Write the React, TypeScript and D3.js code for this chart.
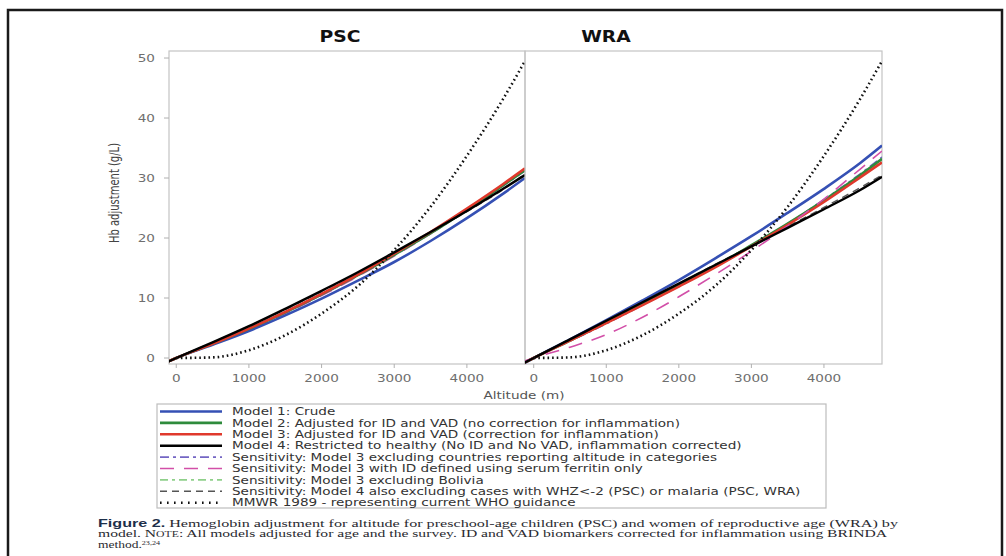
import React from "react";
import * as d3 from "d3";

// ---------- data ----------
const ALTITUDE = [-150, 0, 500, 1000, 1500, 2000, 2500, 3000, 3500, 4000, 4500, 4800];

const PSC_MODEL1 = [-0.8, 0, 2.2, 4.5, 7.1, 9.9, 12.9, 16.0, 19.5, 23.3, 27.4, 30.0];
const PSC_MODEL2 = [-0.8, 0, 2.35, 4.85, 7.6, 10.6, 13.8, 17.2, 20.8, 24.7, 28.8, 31.3];
const PSC_MODEL3 = [-0.8, 0, 2.35, 4.9, 7.7, 10.7, 13.9, 17.4, 21.0, 24.9, 29.0, 31.6];
const PSC_MODEL4 = [-0.8, 0, 2.6, 5.3, 8.2, 11.2, 14.3, 17.6, 21.0, 24.5, 28.2, 30.5];
const PSC_SENS1 = [-0.8, 0, 2.3, 4.8, 7.5, 10.5, 13.7, 17.1, 20.7, 24.6, 28.7, 31.2];
const PSC_SENS2 = [-0.8, 0, 2.2, 4.7, 7.4, 10.4, 13.6, 17.0, 20.7, 24.7, 28.9, 31.5];
const PSC_SENS3 = [-0.8, 0, 2.35, 4.9, 7.6, 10.6, 13.8, 17.2, 20.8, 24.7, 28.8, 31.4];
const PSC_SENS4 = [-0.8, 0, 2.6, 5.3, 8.1, 11.1, 14.2, 17.5, 20.9, 24.4, 28.1, 30.7];

const WRA_MODEL1 = [-1.0, 0, 3.1, 6.3, 9.6, 13.0, 16.6, 20.3, 24.2, 28.2, 32.5, 35.4];
const WRA_MODEL2 = [-0.9, 0, 2.9, 5.9, 9.0, 12.1, 15.3, 18.8, 22.4, 26.3, 30.5, 33.2];
const WRA_MODEL3 = [-0.9, 0, 2.9, 5.8, 8.8, 11.9, 15.1, 18.6, 22.2, 26.0, 30.1, 32.6];
const WRA_MODEL4 = [-0.9, 0, 3.1, 6.2, 9.3, 12.4, 15.5, 18.6, 21.7, 24.8, 28.0, 30.2];
const WRA_SENS1 = [-0.9, 0, 2.8, 5.7, 8.8, 11.9, 15.2, 18.7, 22.4, 26.4, 30.7, 33.5];
const WRA_SENS2 = [-0.6, 0, 1.8, 3.9, 6.8, 10.2, 13.9, 17.8, 22.0, 26.5, 31.5, 34.5];
const WRA_SENS3 = [-0.9, 0, 3.0, 6.0, 9.1, 12.2, 15.4, 18.8, 22.4, 26.2, 30.3, 33.0];
const WRA_SENS4 = [-0.9, 0, 3.1, 6.2, 9.3, 12.4, 15.6, 18.7, 21.9, 25.1, 28.4, 30.5];

const MMWR_1989 = [NaN, 0, 0.1, 1.3, 3.8, 7.4, 12.0, 18.0, 25.2, 33.7, 43.2, 49.5];

const PANEL_TITLES = ["PSC", "WRA"];
const X_TICKS = [0, 1000, 2000, 3000, 4000];
const Y_TICKS = [0, 10, 20, 30, 40, 50];
const X_LABEL = "Altitude (m)";
const Y_LABEL = "Hb adjustment (g/L)";

const LEGEND_LABELS = [
  "Model 1: Crude",
  "Model 2: Adjusted for ID and VAD (no correction for inflammation)",
  "Model 3: Adjusted for ID and VAD (correction for inflammation)",
  "Model 4: Restricted to healthy (No ID and No VAD, inflammation corrected)",
  "Sensitivity: Model 3 excluding countries reporting altitude in categories",
  "Sensitivity: Model 3 with ID defined using serum ferritin only",
  "Sensitivity: Model 3 excluding Bolivia",
  "Sensitivity: Model 4 also excluding cases with WHZ<-2 (PSC) or malaria (PSC, WRA)",
  "MMWR 1989 - representing current WHO guidance",
];

// ---------- styles ----------
type Sty = { color: string; width: number; dash?: string };
const ST_M1: Sty = { color: "#3550b4", width: 2.6 };
const ST_M2: Sty = { color: "#2e8b3c", width: 2.6 };
const ST_M3: Sty = { color: "#e0392c", width: 2.6 };
const ST_M4: Sty = { color: "#000000", width: 2.4 };
const ST_S1: Sty = { color: "#7466c4", width: 1.6, dash: "9,4,3,4" };
const ST_S2: Sty = { color: "#d24fa8", width: 1.6, dash: "14,10" };
const ST_S3: Sty = { color: "#8fd08a", width: 1.6, dash: "8,4,3,4" };
const ST_S4: Sty = { color: "#555555", width: 1.4, dash: "7,5" };
const ST_MM: Sty = { color: "#111111", width: 2.6, dash: "1.6,3" };
const LEGEND_STYLES = [ST_M1, ST_M2, ST_M3, ST_M4, ST_S1, ST_S2, ST_S3, ST_S4, ST_MM];

const SX = 1.36; // horizontal stretch of the reference's text
const FONT = "'DejaVu Sans', Verdana, sans-serif";

const Y_TOP = 51;
const Y_BOT = 364;
const y = d3.scaleLinear().domain([-1, 51.17]).range([Y_BOT, Y_TOP]);

type PanelDef = {
  title: string;
  titleX: number;
  x0: number;
  x1: number;
  dom: [number, number];
  series: { vals: number[]; st: Sty }[];
  id: string;
  yAxis: boolean;
};

const PANELS: PanelDef[] = [
  {
    title: PANEL_TITLES[0],
    titleX: 340,
    x0: 169,
    x1: 525,
    dom: [-100, 4800],
    id: "clipPSC",
    yAxis: true,
    series: [
      { vals: PSC_SENS4, st: ST_S4 },
      { vals: PSC_SENS3, st: ST_S3 },
      { vals: PSC_SENS1, st: ST_S1 },
      { vals: PSC_SENS2, st: ST_S2 },
      { vals: PSC_MODEL1, st: ST_M1 },
      { vals: PSC_MODEL2, st: ST_M2 },
      { vals: PSC_MODEL3, st: ST_M3 },
      { vals: PSC_MODEL4, st: ST_M4 },
      { vals: MMWR_1989, st: ST_MM },
    ],
  },
  {
    title: PANEL_TITLES[1],
    titleX: 606,
    x0: 525,
    x1: 882,
    dom: [-120, 4800],
    id: "clipWRA",
    yAxis: false,
    series: [
      { vals: WRA_SENS4, st: ST_S4 },
      { vals: WRA_SENS3, st: ST_S3 },
      { vals: WRA_SENS1, st: ST_S1 },
      { vals: WRA_MODEL1, st: ST_M1 },
      { vals: WRA_MODEL2, st: ST_M2 },
      { vals: WRA_MODEL3, st: ST_M3 },
      { vals: WRA_SENS2, st: ST_S2 },
      { vals: WRA_MODEL4, st: ST_M4 },
      { vals: MMWR_1989, st: ST_MM },
    ],
  },
];

function SText(props: {
  x: number;
  y: number;
  children: React.ReactNode;
  size?: number;
  anchor?: string;
  fill?: string;
  weight?: string | number;
  sx?: number;
}) {
  const { x, y: yy, children, size = 10, anchor = "start", fill = "#333", weight = "normal", sx = SX } = props;
  return (
    <text
      transform={`translate(${x},${yy}) scale(${sx},1)`}
      fontFamily={FONT}
      fontSize={size}
      textAnchor={anchor as any}
      fill={fill}
      fontWeight={weight as any}
    >
      {children}
    </text>
  );
}

function Panel({ p }: { p: PanelDef }) {
  const x = d3.scaleLinear().domain(p.dom).range([p.x0, p.x1]);
  const line = d3
    .line<number>()
    .defined((v) => !isNaN(v))
    .x((_, i) => x(ALTITUDE[i]))
    .y((v) => y(v))
    .curve(d3.curveMonotoneX);
  return (
    <g>
      <defs>
        <clipPath id={p.id}>
          <rect x={p.x0} y={Y_TOP} width={p.x1 - p.x0} height={Y_BOT - Y_TOP} />
        </clipPath>
      </defs>
      <SText x={p.titleX} y={42} size={15} anchor="middle" fill="#111" weight="bold" sx={1.25}>
        {p.title}
      </SText>
      <rect x={p.x0} y={Y_TOP} width={p.x1 - p.x0} height={Y_BOT - Y_TOP} fill="none" stroke="#c4c4c4" strokeWidth={1.2} />
      {X_TICKS.map((t) => (
        <g key={t}>
          <line x1={x(t)} x2={x(t)} y1={Y_BOT} y2={Y_BOT + 4} stroke="#b0b0b0" strokeWidth={1} />
          <SText x={x(t)} y={Y_BOT + 18} anchor="middle" fill="#6e6e6e">
            {t}
          </SText>
        </g>
      ))}
      {p.yAxis &&
        Y_TICKS.map((t) => (
          <g key={t}>
            <line x1={p.x0 - 5} x2={p.x0} y1={y(t)} y2={y(t)} stroke="#b0b0b0" strokeWidth={1} />
            <SText x={p.x0 - 14} y={y(t) + 3.6} anchor="end" fill="#6e6e6e">
              {t}
            </SText>
          </g>
        ))}
      <g clipPath={`url(#${p.id})`}>
        {p.series.map((s, i) => (
          <path
            key={i}
            d={line(s.vals) || ""}
            fill="none"
            stroke={s.st.color}
            strokeWidth={s.st.width}
            strokeDasharray={s.st.dash}
          />
        ))}
      </g>
    </g>
  );
}

export default function App() {
  const legendY = (i: number) => 411.5 + i * 11.4;
  const serif = "'Liberation Serif', 'Times New Roman', serif";
  return (
    <svg
      width={1006}
      height={556}
      style={{ position: "absolute", left: 0, top: 0, background: "#fff" }}
    >
      <rect x={0} y={0} width={1006} height={556} fill="#fff" />
      {/* outer frame */}
      <path d="M8,556 L8,10 L1002,10 L1002,556" fill="none" stroke="#1a1a1a" strokeWidth={2.5} />

      {PANELS.map((p) => (
        <Panel key={p.id} p={p} />
      ))}

      <SText x={524} y={399} anchor="middle" fill="#555">
        {X_LABEL}
      </SText>
      <text
        transform={`translate(119,193) rotate(-90) scale(1,${SX})`}
        fontFamily={FONT}
        fontSize={10}
        textAnchor="middle"
        fill="#444"
      >
        {Y_LABEL}
      </text>

      {/* legend */}
      <rect x={157} y={404} width={669} height={104} fill="#fff" stroke="#bdbdbd" strokeWidth={1.2} />
      {LEGEND_LABELS.map((lab, i) => {
        const st = LEGEND_STYLES[i];
        return (
          <g key={i}>
            <line
              x1={160}
              x2={222}
              y1={legendY(i)}
              y2={legendY(i)}
              stroke={st.color}
              strokeWidth={i === 8 ? 2.4 : st.width}
              strokeDasharray={i === 8 ? "1.6,5.4" : st.dash}
            />
            <SText x={232} y={legendY(i) + 3.6} fill="#333">
              {lab}
            </SText>
          </g>
        );
      })}

      {/* caption */}
      <text x={98} y={526.5} textLength={800} lengthAdjust="spacingAndGlyphs" fontSize={10} fill="#2a2a30" fontFamily={serif}>
        <tspan fontFamily="'Liberation Sans', Arial, sans-serif" fontWeight="bold" fill="#1d2f4a">Figure 2.</tspan>
        <tspan> Hemoglobin adjustment for altitude for preschool-age children (PSC) and women of reproductive age (WRA) by</tspan>
      </text>
      <text x={98} y={537} textLength={789} lengthAdjust="spacingAndGlyphs" fontSize={10} fill="#2a2a30" fontFamily={serif}>
        <tspan>model. N</tspan>
        <tspan fontSize={7.5}>OTE</tspan>
        <tspan>: All models adjusted for age and the survey. ID and VAD biomarkers corrected for inflammation using BRINDA</tspan>
      </text>
      <text x={98} y={548} textLength={62} lengthAdjust="spacingAndGlyphs" fontSize={10} fill="#2a2a30" fontFamily={serif}>
        <tspan>method.</tspan>
        <tspan fontSize={6} dy={-3.5}>23,24</tspan>
      </text>
    </svg>
  );
}
